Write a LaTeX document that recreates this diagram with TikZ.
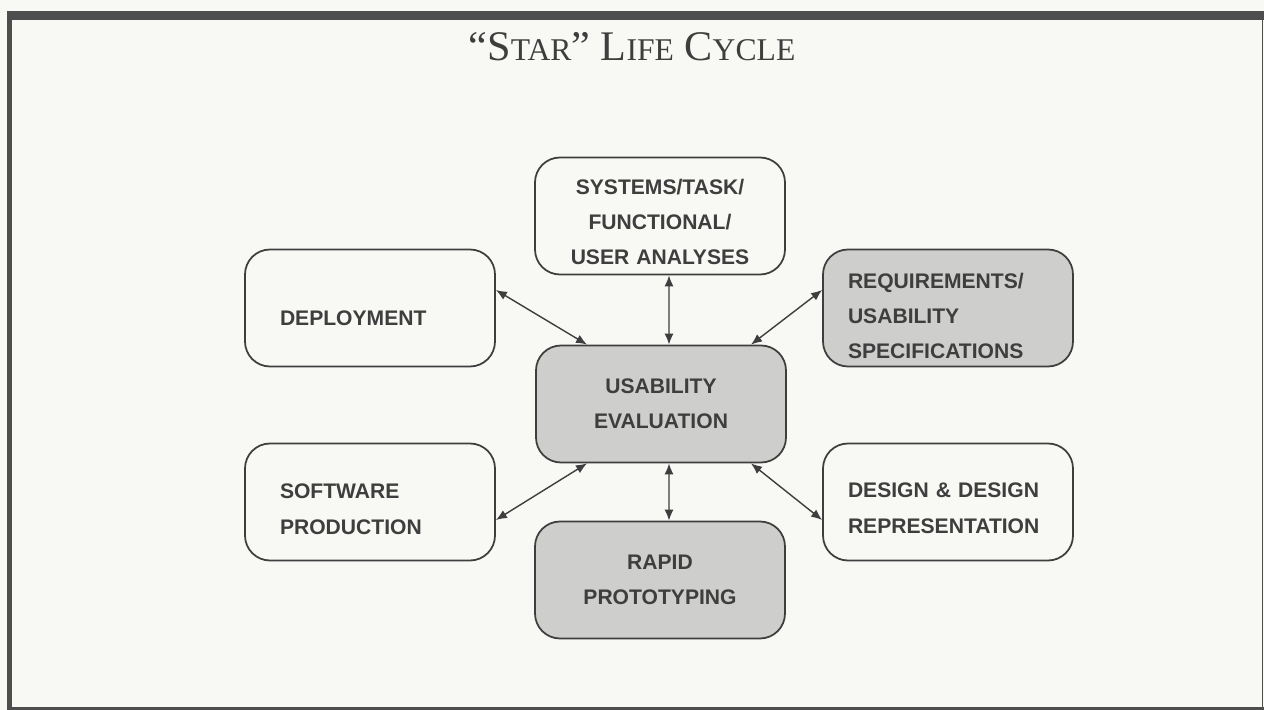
\documentclass[tikz,border=0pt]{standalone}
\usepackage{fontspec}
\setmainfont{Liberation Serif}
\newfontfamily\boxfont{Liberation Sans}
\usetikzlibrary{arrows.meta}
\usetikzlibrary{positioning}
\definecolor{paper}{RGB}{248,248,245}
\definecolor{ink}{RGB}{62,62,62}
\definecolor{framegray}{RGB}{78,78,78}
\definecolor{shade}{RGB}{206,206,204}
\newcommand{\smallcap}[1]{{\fontsize{18}{18}\selectfont #1}}
\tikzset{>={Latex[length=2.2mm,width=1.8mm]},
  stage/.style = {draw=ink, line width=1pt, rounded corners=0.5cm,
    minimum width=5cm, minimum height=2.34cm, inner xsep=0.7cm, inner ysep=0pt,
    text width=3.6cm, text=ink,
    font=\boxfont\bfseries\fontsize{12}{20}\selectfont},
  sidestage/.style = {stage, fill=paper, align=left},
  midstage/.style = {stage, fill=paper, align=center},
  greystage/.style = {midstage, fill=shade},
  wide/.style = {inner xsep=0.5cm, text width=4cm},
  drop/.style = {execute at begin node={\rule{0pt}{#1}}},
  link/.style = {<->, draw=ink, line width=0.8pt}
}

\begin{document}
\begin{tikzpicture}
  \useasboundingbox (0,0) rectangle (25.28,14.2);
  \fill[paper] (0,0) rectangle (25.28,14.2);
  % frame
  \fill[framegray] (0.14,13.8) rectangle (25.28,13.98);
  \fill[framegray] (0.14,0) rectangle (0.24,13.98);
  \fill[framegray] (0.14,0) rectangle (25.28,0.06);
  \fill[framegray] (25.23,0) rectangle (25.26,13.98);

  \node[text=ink] (title) at (12.64,13.26) {\fontsize{24}{24}\selectfont
    \textquotedblleft S\smallcap{TAR}\textquotedblright{} L\smallcap{IFE} C\smallcap{YCLE}};

  \node[midstage, drop=15.5pt]  (sys)   at (13.2,9.88)  {SYSTEMS/TASK/\\FUNCTIONAL/\\USER ANALYSES};
  \node[sidestage, drop=20pt]  (dep)   at (7.4,8.04)   {DEPLOYMENT};
  \node[greystage, align=left, wide, drop=18pt] (req) at (18.96,8.04) {REQUIREMENTS/\\USABILITY\\SPECIFICATIONS};
  \node[greystage] (eval)  at (13.22,6.12) {USABILITY\\EVALUATION};
  \node[sidestage, drop=16.7pt] (soft)  at (7.4,4.16)   {SOFTWARE\\PRODUCTION};
  \node[sidestage, wide, drop=15.5pt] (des)   at (18.96,4.16) {DESIGN \& DESIGN\\REPRESENTATION};
  \node[greystage] (proto) at (13.2,2.6)   {RAPID\\PROTOTYPING};

  \draw[link] ([xshift=0.18cm]sys.south) -- ([xshift=0.16cm]eval.north);
  \draw[link] ([yshift=0.36cm]dep.east) -- ([xshift=-1.48cm]eval.north);
  \draw[link] ([yshift=0.36cm]req.west) -- ([xshift=1.8cm]eval.north);
  \draw[link] ([yshift=-0.36cm]soft.east) -- ([xshift=-1.48cm]eval.south);
  \draw[link] ([yshift=-0.36cm]des.west) -- ([xshift=1.8cm]eval.south);
  \draw[link] ([xshift=0.16cm]eval.south) -- ([xshift=0.18cm]proto.north);
\end{tikzpicture}
\end{document}
